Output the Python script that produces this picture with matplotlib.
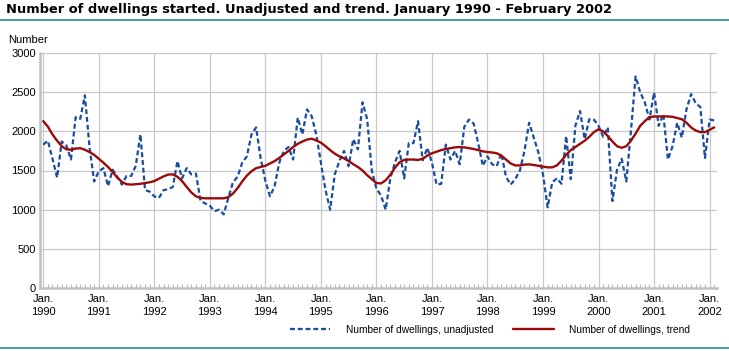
import matplotlib

matplotlib.use("Agg")
import matplotlib.pyplot as plt
from matplotlib.lines import Line2D

plt.rcParams["font.family"] = ["Liberation Sans Narrow", "Liberation Sans", "DejaVu Sans"]

# monthly values, Jan 1990 - Feb 2002
unadjusted = [
    1830, 1880, 1650, 1410, 1870, 1820, 1640, 2180, 2160, 2460, 1800, 1360,  # 1990
    1490, 1530, 1300, 1510, 1420, 1320, 1430, 1430, 1560, 1960, 1250, 1230,  # 1991
    1170, 1150, 1250, 1260, 1290, 1620, 1400, 1530, 1450, 1460, 1110, 1080,  # 1992
    1050, 980, 1000, 940, 1150, 1350, 1420, 1600, 1680, 1960, 2050, 1650,  # 1993
    1370, 1170, 1300, 1600, 1750, 1800, 1640, 2175, 1960, 2280, 2195, 1960,  # 1994
    1600, 1250, 1000, 1450, 1620, 1750, 1555, 1900, 1770, 2370, 2155, 1500,  # 1995
    1270, 1180, 1000, 1400, 1600, 1750, 1400, 1850, 1850, 2130, 1630, 1790,  # 1996
    1600, 1320, 1330, 1830, 1640, 1750, 1580, 2060, 2150, 2100, 1850, 1560,  # 1997
    1680, 1580, 1555, 1720, 1420, 1320, 1390, 1500, 1750, 2110, 1920, 1730,  # 1998
    1450, 1030, 1350, 1400, 1330, 1940, 1390, 2070, 2260, 1900, 2155, 2150,  # 1999
    2070, 1930, 2050, 1110, 1510, 1650, 1360, 2000, 2700, 2500, 2370, 2150,  # 2000
    2495, 2070, 2220, 1640, 1810, 2110, 1920, 2280, 2475, 2360, 2310, 1660,  # 2001
    2150, 2140,  # 2002
]

trend = [
    2130, 2060, 1960, 1880, 1810, 1770, 1765, 1780, 1785, 1765, 1735, 1700,  # 1990
    1650, 1600, 1545, 1480, 1410, 1355, 1325, 1320, 1325, 1330, 1340, 1350,  # 1991
    1365, 1395, 1425, 1448, 1450, 1420, 1365, 1290, 1220, 1170, 1150, 1145,  # 1992
    1145, 1145, 1145, 1145, 1160, 1205, 1275, 1360, 1435, 1490, 1530, 1545,  # 1993
    1560, 1590, 1620, 1660, 1705, 1750, 1800, 1840, 1870, 1895, 1905, 1885,  # 1994
    1855, 1810, 1760, 1715, 1680, 1655, 1620, 1580, 1545, 1500, 1440, 1390,  # 1995
    1340, 1335, 1375, 1445, 1535, 1605, 1635, 1640, 1640, 1635, 1650, 1690,  # 1996
    1720, 1740, 1760, 1775, 1785, 1795, 1800, 1795, 1785, 1775, 1760, 1745,  # 1997
    1735, 1730, 1720, 1690, 1640, 1590, 1565, 1565, 1575, 1578, 1570, 1560,  # 1998
    1550, 1540, 1540, 1565, 1625, 1700, 1760, 1800, 1840, 1880, 1930, 1990,  # 1999
    2025, 2000, 1940, 1870, 1810, 1790, 1810, 1880, 1970, 2070, 2130, 2180,  # 2000
    2190, 2190, 2190, 2190, 2185, 2170, 2155, 2110, 2050, 2010, 1990, 1990,  # 2001
    2020, 2050,  # 2002
]

years = list(range(1990, 2003))
y_ticks = [0, 500, 1000, 1500, 2000, 2500, 3000]

W, H = 729, 351
fig = plt.figure(figsize=(W / 100, H / 100), dpi=100)
ax = fig.add_axes([40 / W, 1 - 288 / H, (717 - 40) / W, (288 - 53) / H])

months = list(range(len(unadjusted)))
ax.plot(months, unadjusted, color="#1a4c9e", lw=1.6, ls=(0, (2.2, 1.3)),
        label="Number of dwellings, unadjusted", zorder=3)
ax.plot(months, trend, color="#9b0a0a", lw=1.7, solid_capstyle="round",
        label="Number of dwellings, trend", zorder=4)

ax.set_xlim(-0.7, 145.6)
ax.set_ylim(0, 3000)

ax.set_xticks([12 * i for i in range(len(years))])
ax.set_xticklabels([f"Jan.\n{y}" for y in years], fontsize=8, linespacing=1.45)
ax.set_xticks(months, minor=True)
ax.set_yticks(y_ticks)
ax.set_yticklabels([str(v) for v in y_ticks], fontsize=8)

ax.tick_params(axis="x", which="major", length=0, pad=4)
ax.tick_params(axis="x", which="minor", direction="in", length=3, color="#b8b8b8", width=0.8)
ax.tick_params(axis="y", length=0, pad=3)

ax.grid(True, which="major", color="#c8c8c8", lw=0.9)
ax.set_axisbelow(True)
for side in ["top", "right"]:
    ax.spines[side].set_visible(False)
for side in ["left", "bottom"]:
    ax.spines[side].set_color("#c0c0c0")
    ax.spines[side].set_linewidth(1.8)

fig.text(6 / W, 1 - 9 / H, "Number of dwellings started. Unadjusted and trend. January 1990 - February 2002",
         fontsize=9.4, fontweight="bold", va="center", ha="left", family=["DejaVu Sans"])
fig.text(8 / W, 1 - 40 / H, "Number", fontsize=8, va="center", ha="left")

teal = "#2a8c8c"
fig.add_artist(Line2D([0, 1], [1 - 20 / H] * 2, transform=fig.transFigure, color=teal, lw=1.2))
fig.add_artist(Line2D([0, 1], [1 - 348 / H] * 2, transform=fig.transFigure, color=teal, lw=1.2))

fig.legend(loc="center", bbox_to_anchor=(490 / W, 1 - 330 / H), ncol=2, frameon=False,
           fontsize=7.3, handlelength=4.0, columnspacing=2.0, handletextpad=1.5)

fig.savefig("out.png", dpi=100)
